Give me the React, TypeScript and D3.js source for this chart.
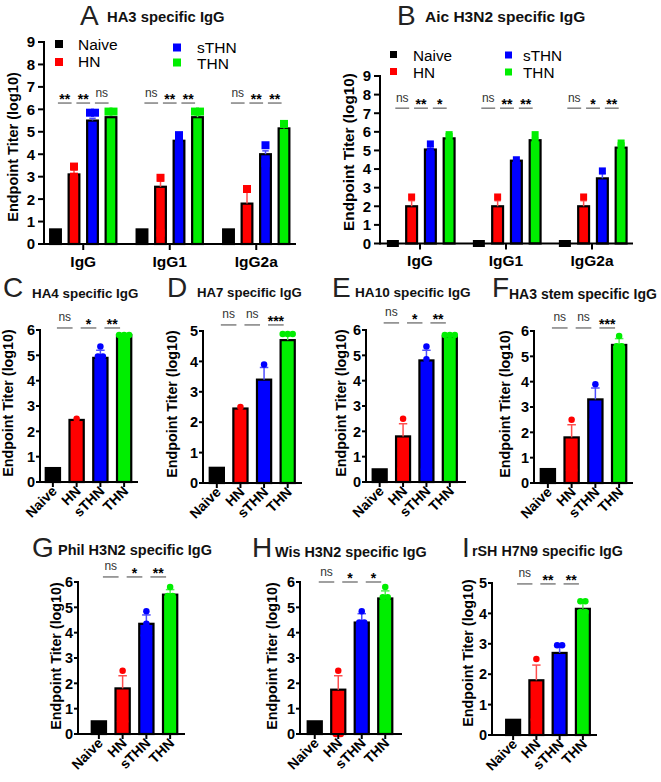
import React from "react";
import * as d3 from "d3";

const FONT = "'Liberation Sans', Arial, Helvetica, sans-serif";

const SERIES = ["Naive", "HN", "sTHN", "THN"];
const SERIES_COLORS = ["#000000", "#ff0000", "#0000ff", "#00ee00"];
const ISOTYPES = ["IgG", "IgG1", "IgG2a"];

// Panel A: HA3 specific IgG — rows are isotypes, columns follow SERIES
const A_MEANS = [
  [0.65, 3.1, 5.5, 5.65],
  [0.65, 2.55, 4.6, 5.65],
  [0.65, 1.8, 4.0, 5.15],
];
const A_ERR: (number | null)[][] = [
  [null, 3.3, 5.6, null],
  [null, 2.8, 4.7, 5.75],
  [null, 2.4, 4.15, 5.3],
];
const A_POINTS = [
  [[], [3.45, 3.0], [5.85, 5.85], [5.9, 5.9]],
  [[], [2.95, 0.5], [4.85, 4.5], [5.9, 5.9]],
  [[], [2.45, 0.5], [4.4, 3.6], [5.35, 4.95]],
];
const A_SIG = [
  ["**", "**", "ns"],
  ["ns", "**", "**"],
  ["ns", "**", "**"],
];

// Panel B: Aic H3N2 specific IgG
const B_MEANS = [
  [0, 2.0, 5.05, 5.65],
  [0, 2.0, 4.45, 5.55],
  [0, 2.0, 3.5, 5.15],
];
const B_ERR: (number | null)[][] = [
  [null, 2.3, 5.2, null],
  [null, 2.3, 4.5, 5.6],
  [null, 2.3, 3.75, null],
];
const B_POINTS = [
  [[0, 0], [2.5, 0.5], [5.35, 4.95], [5.85, 5.75]],
  [[0, 0], [2.5, 0.5], [4.5], [5.85, 5.5]],
  [[0, 0], [2.5, 0.5], [3.9, 3.0], [5.4, 5.25]],
];
const B_SIG = [
  ["ns", "**", "*"],
  ["ns", "**", "**"],
  ["ns", "*", "**"],
];

// Panels C–I (columns follow SERIES)
const C_MEANS = [0.55, 2.45, 4.9, 5.8];
const C_ERR = [null, null, 5.2, null];
const C_POINTS = [[], [2.5], [5.35, 4.95, 4.95], [5.8, 5.8, 5.8]];
const C_SIG = ["ns", "*", "**"];

const D_MEANS = [0.5, 2.45, 3.4, 4.7];
const D_ERR = [null, null, 3.8, 4.85];
const D_POINTS = [[], [2.5], [3.9, 3.0, 3.0], [4.9, 4.9, 4.9]];
const D_SIG = ["ns", "ns", "***"];

const E_MEANS = [0.5, 1.8, 4.8, 5.75];
const E_ERR = [null, 2.3, 5.2, null];
const E_POINTS = [[], [2.5, 0.5, 0.5], [5.35, 4.85, 0.5, 0.5], [5.8, 5.8, 5.8]];
const E_SIG = ["ns", "*", "**"];

const F_MEANS = [0.55, 1.8, 3.3, 5.45];
const F_ERR = [null, 2.3, 3.75, 5.7];
const F_POINTS = [[], [2.5, 0.5, 0.5], [3.9, 2.5, 2.5], [5.8, 5.4, 5.4]];
const F_SIG = ["ns", "ns", "***"];

const G_MEANS = [0.5, 1.8, 4.35, 5.5];
const G_ERR = [null, 2.3, 4.7, 5.7];
const G_POINTS = [[], [2.5, 0.5, 0.5], [4.85, 4.35, 3.9, 3.9], [5.8, 5.45, 5.45]];
const G_SIG = ["ns", "*", "**"];

const H_MEANS = [0.5, 1.75, 4.4, 5.35];
const H_ERR = [null, 2.3, 4.75, 5.65];
const H_POINTS = [[], [2.5, 0, 0], [4.85, 4.4, 4.4, 3.45], [5.8, 5.4, 5.4, 4.8]];
const H_SIG = ["ns", "*", "*"];

const I_MEANS = [0.5, 1.8, 2.7, 4.15];
const I_ERR = [null, 2.3, 2.95, 4.35];
const I_POINTS = [[], [2.5, 0.5, 0.5], [2.95, 2.95, 2.5], [4.4, 4.4, 4.05, 4.05]];
const I_SIG = ["ns", "**", "**"];

const Y_LABEL = "Endpoint Titer (log10)";

function lighten(c: string) {
  return c === "#000000" ? c : d3.interpolateRgb(c, "#ffffff")(0.3);
}

function spread(values: number[], gap: number) {
  const counts = new Map<number, number>();
  values.forEach((v) => counts.set(v, (counts.get(v) || 0) + 1));
  const seen = new Map<number, number>();
  return values.map((v) => {
    const k = counts.get(v)!;
    const i = seen.get(v) || 0;
    seen.set(v, i + 1);
    return { v, dx: (i - (k - 1) / 2) * gap };
  });
}

function BarMark({ cx, bw, y, mean, err, pts, color, shape, msize, gap }: any) {
  const y0 = y(0);
  const ym = y(mean);
  return (
    <g>
      {mean > 0 && (
        <rect x={cx - bw / 2} y={ym} width={bw} height={y0 - ym} fill={color} stroke="#000" strokeWidth={2.2} />
      )}
      {err != null && (
        <g stroke={lighten(color)} strokeWidth={1.5}>
          <line x1={cx} x2={cx} y1={ym} y2={y(err)} />
          <line x1={cx - bw * 0.3} x2={cx + bw * 0.3} y1={y(err)} y2={y(err)} />
        </g>
      )}
      {spread(pts, gap).map((p, i) =>
        shape === "square" ? (
          <rect key={i} x={cx + p.dx - msize / 2} y={y(p.v) - msize / 2} width={msize} height={msize} fill={color} />
        ) : (
          <circle key={i} cx={cx + p.dx} cy={y(p.v)} r={msize / 2} fill={color} />
        )
      )}
    </g>
  );
}

function YAxis({ x, y, yMax, size, tickLen, pad }: any) {
  const ticks: number[] = y.ticks(yMax);
  return (
    <g>
      <line x1={x} x2={x} y1={y(yMax) - 1} y2={y(0) + 1} stroke="#000" strokeWidth={2} />
      {ticks.map((t) => (
        <g key={t}>
          <line x1={x - tickLen} x2={x} y1={y(t)} y2={y(t)} stroke="#000" strokeWidth={2} />
          <text
            x={x - pad}
            y={y(t)}
            dy="0.36em"
            textAnchor="end"
            fontWeight={700}
            fontSize={size}
            fontFamily={FONT}
          >
            {t}
          </text>
        </g>
      ))}
    </g>
  );
}

function Sig({ x1, x2, y, label }: any) {
  const ns = label === "ns";
  return (
    <g>
      <line x1={x1} x2={x2} y1={y} y2={y} stroke="#808080" strokeWidth={1.5} />
      <text
        x={(x1 + x2) / 2}
        y={ns ? y - 6.5 : y + 1}
        textAnchor="middle"
        fontSize={ns ? 12 : 14}
        fontWeight={ns ? 400 : 700}
        fill={ns ? "#333" : "#000"}
        fontFamily={FONT}
      >
        {label}
      </text>
    </g>
  );
}

function Heading({ letter, title }: any) {
  return (
    <g fontFamily={FONT}>
      <text x={letter.x} y={letter.y} fontSize={28} fill="#222">
        {letter.t}
      </text>
      <text x={title.x} y={title.y} fontSize={title.size} fontWeight={700} fill="#111">
        {title.t}
      </text>
    </g>
  );
}

function YLabel({ x, y, size }: any) {
  return (
    <text
      transform={`translate(${x},${y}) rotate(-90)`}
      textAnchor="middle"
      dy="0.36em"
      fontSize={size}
      fontWeight={700}
      fontFamily={FONT}
    >
      {Y_LABEL}
    </text>
  );
}

function GroupedPanel({ L, means, err, pts, sig }: any) {
  const y = d3.scaleLinear().domain([0, L.yMax]).range([L.bottom, L.top]);
  const gx = d3.scaleBand<string>().domain(ISOTYPES).range(L.groupRange);
  const ix = d3
    .scaleBand<string>()
    .domain(SERIES)
    .range(L.innerRange)
    .paddingInner(0.42)
    .paddingOuter(0.21);
  const bw = ix.bandwidth();
  const step = ix.step();
  const sigY = y(L.sigLevel);
  return (
    <g>
      <Heading letter={L.letter} title={L.title} />
      <YLabel x={L.ylab.x} y={L.ylab.y} size={L.ylab.size} />
      {ISOTYPES.map((g, gi) => {
        const gc = gx(g)! + gx.bandwidth() / 2;
        const centers = SERIES.map((s) => gc + ix(s)! + bw / 2);
        return (
          <g key={g}>
            {SERIES.map((s, si) => (
              <BarMark
                key={s}
                cx={centers[si]}
                bw={bw}
                y={y}
                mean={means[gi][si]}
                err={err[gi][si]}
                pts={pts[gi][si]}
                color={SERIES_COLORS[si]}
                shape="square"
                msize={L.msize}
                gap={5}
              />
            ))}
            {sig[gi].map((lab: string, k: number) => {
              const mid = (centers[k] + centers[k + 1]) / 2;
              return <Sig key={k} x1={mid - step * 0.37} x2={mid + step * 0.37} y={sigY} label={lab} />;
            })}
            <line x1={gc} x2={gc} y1={L.bottom} y2={L.bottom + 6} stroke="#000" strokeWidth={2} />
            <text
              x={gc}
              y={L.bottom + 22.5}
              textAnchor="middle"
              fontSize={15.5}
              fontWeight={700}
              fontFamily={FONT}
            >
              {g}
            </text>
          </g>
        );
      })}
      <line x1={L.left} x2={L.right} y1={L.bottom} y2={L.bottom} stroke="#000" strokeWidth={2} />
      <YAxis x={L.left} y={y} yMax={L.yMax} size={15} tickLen={6} pad={9} />
      <g fontFamily={FONT} fontSize={L.legend.size}>
        {SERIES.map((s, si) => {
          const p = L.legend.items[si];
          return (
            <g key={s}>
              <rect
                x={p.sx - L.legend.sq / 2}
                y={p.sy - L.legend.sq / 2}
                width={L.legend.sq}
                height={L.legend.sq}
                fill={SERIES_COLORS[si]}
              />
              <text x={p.tx} y={p.ty}>
                {s}
              </text>
            </g>
          );
        })}
      </g>
    </g>
  );
}

function SinglePanel({ L, means, err, pts, sig }: any) {
  const y = d3.scaleLinear().domain([0, L.yMax]).range([L.bottom, L.top]);
  const x = d3
    .scaleBand<string>()
    .domain(SERIES)
    .range(L.band)
    .paddingInner(0.4)
    .paddingOuter(0.2);
  const bw = x.bandwidth();
  const step = x.step();
  const centers = SERIES.map((s) => x(s)! + bw / 2);
  const sigY = y(L.sigLevel);
  return (
    <g>
      <Heading letter={L.letter} title={L.title} />
      <YLabel x={L.ylab.x} y={L.ylab.y} size={14.3} />
      {SERIES.map((s, si) => (
        <BarMark
          key={s}
          cx={centers[si]}
          bw={bw}
          y={y}
          mean={means[si]}
          err={err[si]}
          pts={pts[si]}
          color={SERIES_COLORS[si]}
          shape="circle"
          msize={6.5}
          gap={5}
        />
      ))}
      {sig.map((lab: string, k: number) => {
        const mid = (centers[k] + centers[k + 1]) / 2;
        return <Sig key={k} x1={mid - step * 0.33} x2={mid + step * 0.33} y={sigY} label={lab} />;
      })}
      <line x1={L.left} x2={L.right} y1={L.bottom} y2={L.bottom} stroke="#000" strokeWidth={2} />
      {SERIES.map((s, si) => (
        <g key={s}>
          <line x1={centers[si]} x2={centers[si]} y1={L.bottom} y2={L.bottom + 5} stroke="#000" strokeWidth={2} />
          <text
            transform={`translate(${centers[si] + 5},${L.bottom + 10}) rotate(-45)`}
            textAnchor="end"
            fontSize={14}
            fontWeight={700}
            fontFamily={FONT}
          >
            {s}
          </text>
        </g>
      ))}
      <YAxis x={L.left} y={y} yMax={L.yMax} size={14.5} tickLen={4} pad={5} />
    </g>
  );
}

const LAYOUT_A = {
  yMax: 9, top: 42, bottom: 244, left: 44, right: 296,
  groupRange: [40, 299.5], innerRange: [-37, 37], sigLevel: 6.28, msize: 8,
  letter: { x: 80, y: 25, t: "A" },
  title: { x: 107, y: 21.5, size: 14.8, t: "HA3 specific IgG" },
  ylab: { x: 13, y: 147, size: 14.5 },
  legend: {
    size: 15.5, sq: 8,
    items: [
      { sx: 59, sy: 44, tx: 78, ty: 50 },
      { sx: 59, sy: 62, tx: 78, ty: 67 },
      { sx: 177, sy: 47.5, tx: 197, ty: 53 },
      { sx: 177, sy: 62.5, tx: 197, ty: 69 },
    ],
  },
};

const LAYOUT_B = {
  yMax: 9, top: 76, bottom: 243.5, left: 380, right: 633,
  groupRange: [377, 635], innerRange: [-36.5, 38.5], sigLevel: 7.27, msize: 7,
  letter: { x: 397, y: 25, t: "B" },
  title: { x: 425, y: 22, size: 15.5, t: "Aic H3N2 specific IgG" },
  ylab: { x: 348, y: 152, size: 15.3 },
  legend: {
    size: 15.3, sq: 7,
    items: [
      { sx: 393.5, sy: 54.5, tx: 413, ty: 61 },
      { sx: 393.5, sy: 71.5, tx: 413, ty: 78 },
      { sx: 508.5, sy: 55, tx: 523, ty: 61 },
      { sx: 508.5, sy: 72, tx: 523, ty: 78 },
    ],
  },
};

const LAYOUT_C = { left: 40, right: 138, top: 330, bottom: 482, band: [41, 136], yMax: 6, sigLevel: 6.08,
  letter: { x: 3, y: 297, t: "C" }, title: { x: 32, y: 298, size: 13.4, t: "HA4 specific IgG" }, ylab: { x: 8, y: 403 } };
const LAYOUT_D = { left: 203, right: 302, top: 331, bottom: 483, band: [205, 299.5], yMax: 5, sigLevel: 5.2,
  letter: { x: 167, y: 297, t: "D" }, title: { x: 197, y: 297, size: 13.2, t: "HA7 specific IgG" }, ylab: { x: 172, y: 404 } };
const LAYOUT_E = { left: 366, right: 466, top: 330, bottom: 482, band: [368, 461.5], yMax: 6, sigLevel: 6.28,
  letter: { x: 332, y: 297, t: "E" }, title: { x: 355, y: 297, size: 13.6, t: "HA10 specific IgG" }, ylab: { x: 341, y: 403 } };
const LAYOUT_F = { left: 534, right: 633, top: 331, bottom: 483, band: [536, 631], yMax: 6, sigLevel: 6.12,
  letter: { x: 492, y: 297, t: "F" }, title: { x: 509, y: 299, size: 14, t: "HA3 stem specific IgG" }, ylab: { x: 505, y: 404 } };
const LAYOUT_G = { left: 78, right: 185, top: 582, bottom: 734, band: [87, 182], yMax: 6, sigLevel: 6.2,
  letter: { x: 32, y: 557, t: "G" }, title: { x: 58, y: 555, size: 14.5, t: "Phil H3N2 specific IgG" }, ylab: { x: 56, y: 656 } };
const LAYOUT_H = { left: 300, right: 402, top: 582, bottom: 734, band: [303, 397], yMax: 6, sigLevel: 6.0,
  letter: { x: 252, y: 557, t: "H" }, title: { x: 275, y: 557, size: 14.4, t: "Wis H3N2 specific IgG" }, ylab: { x: 272, y: 656 } };
const LAYOUT_I = { left: 492, right: 597, top: 583, bottom: 735, band: [501.5, 594.5], yMax: 5, sigLevel: 4.97,
  letter: { x: 462, y: 557, t: "I" }, title: { x: 472, y: 556, size: 14.3, t: "rSH H7N9 specific IgG" }, ylab: { x: 468, y: 653 } };

export default function App() {
  return (
    <svg
      width={661}
      height={782}
      viewBox="0 0 661 782"
      style={{ position: "absolute", left: 0, top: 0, background: "#fff" }}
    >
      <rect width={661} height={782} fill="#fff" />
      <GroupedPanel L={LAYOUT_A} means={A_MEANS} err={A_ERR} pts={A_POINTS} sig={A_SIG} />
      <GroupedPanel L={LAYOUT_B} means={B_MEANS} err={B_ERR} pts={B_POINTS} sig={B_SIG} />
      <SinglePanel L={LAYOUT_C} means={C_MEANS} err={C_ERR} pts={C_POINTS} sig={C_SIG} />
      <SinglePanel L={LAYOUT_D} means={D_MEANS} err={D_ERR} pts={D_POINTS} sig={D_SIG} />
      <SinglePanel L={LAYOUT_E} means={E_MEANS} err={E_ERR} pts={E_POINTS} sig={E_SIG} />
      <SinglePanel L={LAYOUT_F} means={F_MEANS} err={F_ERR} pts={F_POINTS} sig={F_SIG} />
      <SinglePanel L={LAYOUT_G} means={G_MEANS} err={G_ERR} pts={G_POINTS} sig={G_SIG} />
      <SinglePanel L={LAYOUT_H} means={H_MEANS} err={H_ERR} pts={H_POINTS} sig={H_SIG} />
      <SinglePanel L={LAYOUT_I} means={I_MEANS} err={I_ERR} pts={I_POINTS} sig={I_SIG} />
    </svg>
  );
}
